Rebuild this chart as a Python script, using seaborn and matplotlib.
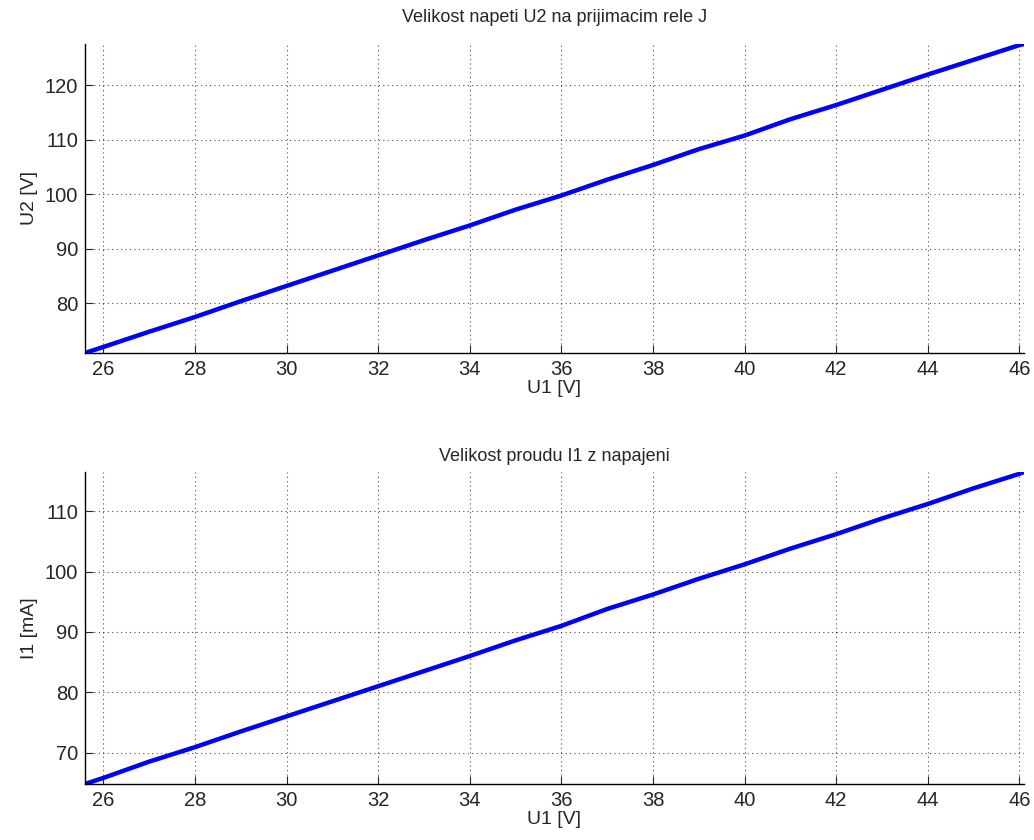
import numpy as np
import pandas as pd
import matplotlib
matplotlib.use('Agg')
import matplotlib.pyplot as plt
import seaborn as sns

# supply voltage U1 [V]
u1 = [25.6, 26, 27, 28, 29, 30, 31, 32, 33, 34, 35, 36, 37, 38, 39, 40,
      41, 42, 43, 44, 45, 46, 46.1]
# voltage U2 on receiving relay J [V]
u2 = [70.9, 72.0, 74.8, 77.5, 80.4, 83.2, 86.0, 88.8, 91.6, 94.3, 97.2, 99.8,
      102.7, 105.4, 108.3, 110.8, 113.8, 116.4, 119.2, 122.0, 124.7, 127.4, 127.6]
# supply current I1 [mA]
i1 = [64.8, 65.8, 68.5, 70.9, 73.5, 76.0, 78.5, 81.0, 83.5, 86.0, 88.6, 91.0,
      93.8, 96.2, 98.8, 101.2, 103.8, 106.2, 108.8, 111.2, 113.8, 116.2, 116.5]

df = pd.DataFrame({"U1": u1, "U2": u2, "I1": i1})

sns.set_style("white")
plt.rcParams['font.family'] = ['Liberation Sans', 'DejaVu Sans']

fig = plt.figure(figsize=(10.34, 8.4), dpi=100)
ax1 = fig.add_axes([0.0822, 0.5798, 0.9081, 0.3678])
ax2 = fig.add_axes([0.0822, 0.0667, 0.9081, 0.3714])

panels = [
    (ax1, "U2", "U2 [V]", "Velikost napeti U2 na prijimacim rele J", [80, 90, 100, 110, 120], 16),
    (ax2, "I1", "I1 [mA]", "Velikost proudu I1 z napajeni", [70, 80, 90, 100, 110], 8),
]

for ax, col, ylab, title, yt, tpad in panels:
    sns.lineplot(data=df, x="U1", y=col, ax=ax, color="#0000ff", linewidth=3.2)
    ax.set_xlim(df["U1"].min(), df["U1"].max())
    ax.set_ylim(df[col].min(), df[col].max())
    ax.set_xticks(range(26, 47, 2))
    ax.set_yticks(yt)
    ax.grid(True, linestyle=(0, (1, 3)), color="black", linewidth=0.8, alpha=0.7)
    ax.tick_params(direction="in", length=6, labelsize=14.5, left=True, bottom=True,
                   pad=5)
    for s in ["top", "right"]:
        ax.spines[s].set_visible(False)
    for s in ["left", "bottom"]:
        ax.spines[s].set_color("black")
        ax.spines[s].set_linewidth(1.0)
    ax.set_xlabel("U1 [V]", fontsize=14, labelpad=1)
    ax.set_ylabel(ylab, fontsize=14, labelpad=5)
    ax.set_title(title, fontsize=13, pad=tpad)

fig.savefig("out.png", dpi=100)
